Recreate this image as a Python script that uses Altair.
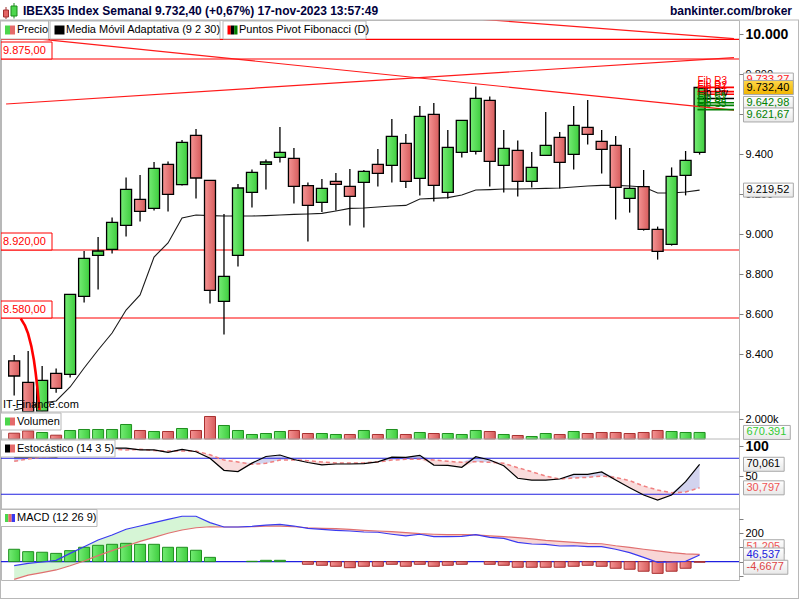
import altair as alt
import numpy as np
import pandas as pd

FONT = "Liberation Sans"

# ---------------- data: weekly candles (5-dic-2022 .. 13-nov-2023) ----------------
week = list(range(50))
open_ = [8366, 8258, 8114, 8303, 8298, 8688, 8893, 8923, 9043, 9173,
         9128, 9348, 9247, 9493, 9268, 8663, 8893, 9208, 9348, 9383,
         9378, 9242, 9158, 9263, 9238, 9258, 9348, 9343, 9453, 9278,
         9598, 9208, 9408, 9413, 9668, 9343, 9418, 9263, 9393, 9483,
         9398, 9533, 9463, 9443, 9178, 9237, 9023, 8948, 9293, 9408]
high = [8395, 8415, 8340, 8328, 8700, 8915, 8985, 9082, 9282, 9295,
        9360, 9363, 9470, 9525, 9270, 9100, 9250, 9322, 9373, 9535,
        9430, 9258, 9275, 9305, 9325, 9320, 9425, 9575, 9500, 9640,
        9655, 9520, 9570, 9737, 9687, 9520, 9468, 9410, 9610, 9510,
        9640, 9670, 9520, 9490, 9430, 9320, 9037, 9333, 9415, 9735]
low = [8192, 8112, 8112, 8206, 8282, 8657, 8722, 8903, 8987, 9062,
       9117, 9112, 9242, 9177, 8653, 8498, 8837, 9132, 9222, 9357,
       9152, 8962, 9110, 9118, 9042, 9032, 9237, 9257, 9230, 9192,
       9163, 9178, 9382, 9397, 9237, 9207, 9187, 9232, 9393, 9228,
       9322, 9447, 9302, 9072, 9107, 9017, 8872, 8942, 9193, 9397]
close = [8290, 8112, 8268, 8228, 8698, 8878, 8915, 9058, 9223, 9113,
         9328, 9198, 9458, 9280, 8718, 8788, 9230, 9308, 9360, 9408,
         9238, 9143, 9228, 9248, 9188, 9313, 9303, 9488, 9263, 9588,
         9243, 9433, 9568, 9678, 9363, 9428, 9263, 9333, 9443, 9358,
         9543, 9498, 9423, 9233, 9228, 9023, 8913, 9288, 9368, 9732.40]
ama = [8120, 8135, 8155, 8165, 8235, 8330, 8420, 8505, 8620, 8695,
       8885, 8955, 9080, 9095, 9092, 9090, 9090, 9090, 9092, 9095,
       9098, 9100, 9103, 9115, 9128, 9130, 9135, 9140, 9143, 9175,
       9178, 9182, 9195, 9220, 9222, 9225, 9225, 9226, 9228, 9230,
       9235, 9240, 9243, 9243, 9240, 9235, 9205, 9205, 9210, 9219.52]
volume_k = [595, 831, 667, 390, 872, 975, 975, 975, 1488, 872,
            770, 770, 1077, 872, 2309, 1385, 872, 462, 564, 770,
            872, 564, 564, 462, 462, 872, 462, 975, 462, 667,
            564, 564, 462, 872, 770, 462, 359, 257, 564, 462,
            770, 564, 667, 667, 564, 667, 872, 770, 667, 670.391]
vol_up = [0, 0, 1, 0, 1, 1, 1, 1, 1, 0,
          1, 0, 1, 0, 0, 1, 1, 1, 1, 1,
          0, 0, 1, 1, 0, 1, 0, 1, 0, 1,
          0, 1, 1, 1, 0, 1, 0, 1, 1, 0,
          1, 0, 0, 0, 0, 0, 0, 1, 1, 1]
stoch_k = [82, 82, 83, 82, 90, 95, 96, 97, 97, 94,
           94, 90, 95, 91, 80, 60, 58, 72, 83, 85.5,
           78, 73, 69, 70.5, 70.5, 71, 74, 82, 81.7, 85,
           68.8, 68.3, 65, 82.7, 77.2, 67.7, 46.7, 43.8, 43.8, 45.5,
           53.3, 53.3, 57.2, 43.8, 31, 18.8, 10.5, 18.8, 41, 70.061]
stoch_d = [75, 79, 82, 83, 84, 88, 93, 95, 94, 95,
           93, 92, 92, 92, 86, 77, 74, 70, 71.7, 77,
           77.5, 76, 74, 72, 72, 72.5, 74, 77, 78.3, 78.3,
           77.2, 75, 73.3, 74.4, 73.3, 71.7, 64.4, 57.7, 50.5, 45.5,
           47.2, 48.3, 50.5, 48.3, 42.7, 33.8, 27.2, 22.7, 23.8, 30.797]
macd = [-29, -12, -3, 9, 58, 105, 152, 188, 228, 251,
        275, 298, 320, 320, 275, 244, 244, 249, 258, 263,
        251, 235, 228, 221, 216, 209, 207, 193, 181, 193,
        176, 176, 178, 190, 171, 164, 136, 124, 122, 110,
        112, 105, 105, 87, 63, 30, -5, -3, 2, 46.537]
signal = [-125, -95, -78, -59, -29, 4, 42, 77, 110, 143,
          171, 200, 223, 239, 246, 244, 244, 246, 251, 251,
          246, 239, 235, 232, 228, 221, 216, 211, 204, 197,
          193, 190, 190, 188, 181, 176, 169, 160, 150, 143,
          136, 129, 126, 112, 101, 87, 75, 63, 54, 51.205]
hist = [87, 70, 66, 58, 77, 101, 115, 122, 129, 122,
        122, 101, 101, 80, 30, 0, 0, 2, 9, 9,
        0, -19, -26, -33, -43, -33, -33, -19, -33, -19,
        -33, -26, -19, 0, -19, -26, -40, -40, -40, -40,
        -33, -26, -33, -47, -54, -68, -83, -68, -47, -4.6677]

month_ticks = [4, 9, 13, 17, 21, 26, 30, 35, 39, 43, 48]
month_labels = ["2023", "feb", "mar", "abr", "may", "jun", "jul", "ago", "sep", "oct", "nov"]
price_ticks = [8400, 8600, 8800, 9000, 9200, 9400, 9600, 9800, 10000]
vol_ticks = [2000]
stoch_ticks = [100, 50]
stoch_levels = [80, 20]
macd_ticks = [300, 200, 100, 0, -100]

h_levels = [9973, 9875, 8920, 8580]
trend_id = ["a", "a", "b", "b", "c", "c"]
trend_i = [-0.58, 51.46, -0.58, 51.46, -0.58, 51.46]
trend_p = [9992, 9619, 10255, 9977, 9650, 9882]
arc_i = [0.47, 0.99, 1.41, 1.65, 1.81]
arc_p = [8578, 8503, 8370, 8237, 8120]
fib_names = ["Fib R3", "Fib R2", "Fib R1", "Fib Piv", "Fib S1", "Fib S2", "Fib S3"]
fib_levels = [9733.27, 9711.96, 9698.79, 9677.47, 9656.15, 9642.98, 9621.67]
fib_start = 48.85
last_volume = 670391

# ---------------- layout ----------------
W, H = 738, 560
OX, OY = 1, 20
X0, X1 = -0.584, 51.46
PANELS = {
    "price": ([8110, 10070], [392, 0]),
    "vol": ([0, 2769], [419, 392]),
    "sto": ([-4.5, 112.2], [489, 419]),
    "macd": ([-129.9, 371.2], [560, 489]),
}
xscale = alt.Scale(domain=[X0, X1], nice=False, zero=False)


def X(f="i", axis=None):
    return alt.X(f"{f}:Q", scale=xscale, axis=axis)


def Y(f, panel, axis=None):
    d, r = PANELS[panel]
    return alt.Y(f"{f}:Q", scale=alt.Scale(domain=d, range=r, nice=False, zero=False), axis=axis)


def cond(test, a, b):
    return {"condition": {"test": test, "value": a}, "value": b}


def hgrad(c1, c2):
    return alt.LinearGradient(gradient="linear", x1=0, x2=1, y1=0, y2=0,
                              stops=[alt.GradientStop(color=c1, offset=0), alt.GradientStop(color=c2, offset=1)])


def vgrad(c1, c2):
    return alt.LinearGradient(gradient="linear", x1=0, x2=0, y1=0, y2=1,
                              stops=[alt.GradientStop(color=c1, offset=0), alt.GradientStop(color=c2, offset=1)])


GREEN = hgrad("#74ec74", "#3fcd3f")
RED = hgrad("#f59494", "#d65c5c")

df = pd.DataFrame(dict(i=week, o=open_, h=high, l=low, c=close, ama=ama, vol=volume_k,
                       vup=vol_up, k=stoch_k, d=stoch_d, m=macd, s=signal, hist=hist))
df["up"] = df["c"] >= df["o"]
df["zero"] = 0.0
df["kmax"] = np.maximum(df["k"], df["d"])
df["kmin"] = np.minimum(df["k"], df["d"])
df["mmax"] = np.maximum(df["m"], df["s"])
df["mmin"] = np.minimum(df["m"], df["s"])

ONE = pd.DataFrame({"z": [0]})

axis_common = dict(title=None, grid=False, domain=False, tickSize=4, tickColor="#808080",
                   labelColor="black", labelFont=FONT, labelPadding=2, labelOverlap=False)
PRICE_AXIS = alt.Axis(orient="right", values=price_ticks,
                      labelFontSize=cond("datum.value == 10000", 14, 11),
                      labelFontWeight=cond("datum.value == 10000", "bold", "normal"),
                      labelExpr="replace(format(datum.value, ','), ',', '.')", **axis_common)
VOL_AXIS = alt.Axis(orient="right", values=vol_ticks, labelFontSize=11,
                    labelExpr="replace(format(datum.value, ','), ',', '.') + 'k'", **axis_common)
STO_AXIS = alt.Axis(orient="right", values=stoch_ticks,
                    labelFontSize=cond("datum.value == 100", 14, 11),
                    labelFontWeight=cond("datum.value == 100", "bold", "normal"), **axis_common)
MACD_AXIS = alt.Axis(orient="right", values=macd_ticks, labelFontSize=11,
                     labelExpr="datum.value == 200 ? '200' : ''", **axis_common)
lab_arr = "[" + ",".join(f"'{s}'" for s in month_labels) + "]"
tick_arr = "[" + ",".join(str(t) for t in month_ticks) + "]"
X_AXIS = alt.Axis(orient="bottom", values=month_ticks, title=None, grid=False, domain=False,
                  tickSize=4, tickColor="#808080", labelColor="black", labelFont=FONT,
                  labelFontSize=cond("datum.value == 4", 14, 11),
                  labelFontWeight=cond("datum.value == 4", "bold", "normal"),
                  labelPadding=1, labelOverlap=False, labelFlush=False,
                  labelExpr=f"{lab_arr}[indexof({tick_arr}, datum.value)]")

base = alt.Chart(df)
layers = []

# ---------- price panel ----------
hl = pd.DataFrame({"p": h_levels})
layers.append(alt.Chart(hl).mark_rule(color="#ff0000", strokeWidth=1.2).encode(y=Y("p", "price")))
layers.append(base.mark_line(color="#1a1a1a", strokeWidth=1.1).encode(x=X(), y=Y("ama", "price")))
layers.append(base.mark_rule(color="black", strokeWidth=1.3).encode(
    x=X(), y=Y("l", "price", axis=PRICE_AXIS), y2="h:Q"))
layers.append(base.transform_filter("datum.up").mark_bar(size=11, fill=GREEN, stroke="black", strokeWidth=1.3)
              .encode(x=X(), y=Y("o", "price"), y2="c:Q"))
layers.append(base.transform_filter("!datum.up").mark_bar(size=11, fill=RED, stroke="black", strokeWidth=1.3)
              .encode(x=X(), y=Y("o", "price"), y2="c:Q"))
tr = pd.DataFrame({"id": trend_id, "i": trend_i, "p": trend_p})
layers.append(alt.Chart(tr).mark_line(color="#ff1a1a", strokeWidth=1.2, clip=True).encode(
    x=X(), y=Y("p", "price"), detail="id:N"))
arc = pd.DataFrame({"i": arc_i, "p": arc_p})
layers.append(alt.Chart(arc).mark_line(color="#ff0000", strokeWidth=2.6, interpolate="monotone").encode(
    x=X(), y=Y("p", "price")))
fib = pd.DataFrame({"name": fib_names, "p": fib_levels})
fib["xa"] = fib_start
fib["xb"] = X1
fib["col"] = ["#ff0000" if n.endswith(("R3", "R2", "R1")) else ("#000000" if n.endswith("Piv") else "#008000")
              for n in fib_names]
layers.append(alt.Chart(fib).mark_rule(strokeWidth=1.6, clip=True).encode(
    x=X("xa"), x2="xb:Q", y=Y("p", "price"), color=alt.Color("col:N", scale=None)))
layers.append(alt.Chart(fib).mark_text(align="left", baseline="middle", dy=-6, font=FONT, fontSize=10).encode(
    x=X("xa"), y=Y("p", "price"), text="name:N", color=alt.Color("col:N", scale=None)))


def fmt_es(v, dec):
    s = f"{v:,.{dec}f}"
    return s.replace(",", "X").replace(".", ",").replace("X", ".")


def tw(s):
    return sum(6.12 if ch.isdigit() else (3.66 if ch == "-" else 3.06) for ch in s)


def box(val, label, panel, tcolor, fill, yoff=0.0, left=743.5, h=14, stroke="#a8a8a8", tleft=3):
    d = pd.DataFrame({"v": [val]})
    w = tw(label) + 7 if left > 700 else 51
    r = h / w
    path = f"M-1,{-r:.4f}L1,{-r:.4f}L1,{r:.4f}L-1,{r:.4f}Z"
    b = alt.Chart(d).mark_point(shape=path, size=w * w, filled=True, fill=fill, stroke=stroke,
                                strokeWidth=1, opacity=1, fillOpacity=1, yOffset=yoff).encode(
        x=alt.value(left + w / 2 - OX), y=Y("v", panel))
    t = alt.Chart(d).mark_text(text=label, align="left", baseline="middle", dy=yoff, color=tcolor,
                               font=FONT, fontSize=11).encode(x=alt.value(left + tleft - OX), y=Y("v", panel))
    return [b, t]


# left labels of horizontal levels (first one hidden under the legend row)
for lv in h_levels[1:]:
    layers += box(lv, fmt_es(lv, 2), "price", "#ff0000", "white", yoff=-8.5, left=1, h=17,
                  stroke="#ff0000", tleft=2)

# ---------- volume ----------
layers.append(base.transform_filter("datum.vup == 1").mark_bar(size=11, fill=GREEN, stroke="#1f8f1f", strokeWidth=1)
              .encode(x=X(), y=Y("vol", "vol", axis=VOL_AXIS), y2="zero:Q"))
layers.append(base.transform_filter("datum.vup == 0").mark_bar(size=11, fill=RED, stroke="#a83030", strokeWidth=1)
              .encode(x=X(), y=Y("vol", "vol"), y2="zero:Q"))

# ---------- stochastic ----------
layers.append(base.mark_area(color="#d2d3ee", opacity=1).encode(x=X(), y=Y("kmax", "sto"), y2="d:Q"))
layers.append(base.mark_area(color="#f9dcdc", opacity=1).encode(x=X(), y=Y("kmin", "sto"), y2="d:Q"))
layers.append(alt.Chart(pd.DataFrame({"v": stoch_levels})).mark_rule(color="#2020e0", strokeWidth=1.1)
              .encode(y=Y("v", "sto")))
layers.append(base.mark_line(color="#f08080", strokeWidth=1.5, strokeDash=[4, 3]).encode(x=X(), y=Y("d", "sto")))
layers.append(base.mark_line(color="black", strokeWidth=1.2).encode(x=X(), y=Y("k", "sto", axis=STO_AXIS)))

# ---------- MACD ----------
layers.append(base.mark_area(color="#d6f5d6", opacity=1).encode(x=X(), y=Y("mmax", "macd"), y2="s:Q"))
layers.append(base.mark_area(color="#f8d6d6", opacity=1).encode(x=X(), y=Y("mmin", "macd"), y2="s:Q"))
layers.append(alt.Chart(pd.DataFrame({"v": [0]})).mark_rule(color="#2020e0", strokeWidth=1.1)
              .encode(y=Y("v", "macd")))
layers.append(base.transform_filter("datum.hist > 0").mark_bar(size=11, fill=GREEN, stroke="#1f8f1f", strokeWidth=1)
              .encode(x=X(), y=Y("hist", "macd"), y2="zero:Q"))
layers.append(base.transform_filter("datum.hist < 0").mark_bar(size=11, fill=RED, stroke="#a83030", strokeWidth=1)
              .encode(x=X(), y=Y("hist", "macd"), y2="zero:Q"))
layers.append(base.mark_line(color="#e07070", strokeWidth=1.2).encode(x=X(), y=Y("s", "macd")))
layers.append(base.mark_line(color="#3a3af0", strokeWidth=1.2).encode(x=X(axis=X_AXIS), y=Y("m", "macd", axis=MACD_AXIS)))


# ---------- decorations ----------
def rule_abs(x1, x2, y1, y2, color="#b8b8b8", width=1):
    return alt.Chart(ONE).mark_rule(color=color, strokeWidth=width).encode(
        x=alt.value(x1 - OX), x2=alt.value(x2 - OX), y=alt.value(y1 - OY), y2=alt.value(y2 - OY))


def rect_abs(x1, x2, y1, y2, fill, stroke=None, width=1):
    kw = dict(fill=fill)
    if stroke:
        kw.update(stroke=stroke, strokeWidth=width)
    return alt.Chart(ONE).mark_rect(**kw).encode(
        x=alt.value(x1 - OX), x2=alt.value(x2 - OX), y=alt.value(y1 - OY), y2=alt.value(y2 - OY))


def text_abs(x, y, s, size=11, weight="normal", color="black", align="left"):
    return alt.Chart(ONE).mark_text(text=s, font=FONT, fontSize=size, fontWeight=weight, color=color,
                                    align=align, baseline="middle").encode(x=alt.value(x - OX), y=alt.value(y - OY))


layers.append(text_abs(3, 405, "IT-Finance.com"))

GRAY = "#b8b8b8"
for yy in (412, 439, 509):
    layers.append(rule_abs(1, 739, yy, yy, GRAY))
layers.append(rule_abs(0, 799, 20, 20, GRAY))
layers.append(rule_abs(798.5, 798.5, 20, 598, GRAY))
layers.append(rule_abs(0, 799, 598.5, 598.5, GRAY))
layers.append(rule_abs(0.5, 0.5, 20, 598, GRAY))


def legend(x1, x2, y1, y2, label, icons, tx):
    out = [rect_abs(x1, x2, y1, y2, "white", GRAY)]
    n = len(icons)
    iw = 10 / n
    for k, c in enumerate(icons):
        out.append(rect_abs(5 + x1 - 0.5 + k * iw, 5 + x1 - 0.5 + (k + 1) * iw, y1 + 4.5, y2 - 4.5, c))
    out.append(text_abs(tx, (y1 + y2) / 2, label))
    return out


layers += legend(0.5, 48.5, 21, 39, "Precio", ["#4cd64c", "#e46a6a"], 17)
layers += legend(50, 220, 21, 39, "Media Móvil Adaptativa (9 2 30)", ["#000000"], 66)
layers += legend(223, 366, 21, 39, "Puntos Pivot Fibonacci (D)", ["#ff0000", "#000000", "#008000"], 239)
layers += legend(0.5, 61, 413, 430, "Volumen", ["#4cd64c", "#e46a6a"], 17)
layers += legend(0.5, 115, 440, 457, "Estocástico (14 3 5)", ["#000000", "#e46a6a"], 17)
layers += legend(0.5, 97, 509.5, 526.5, "MACD (12 26 9)", ["#4cd64c", "#e46a6a", "#3a3af0"], 17)

# header
layers.append(rule_abs(6, 6, 7, 19, "#a03030", 1))
layers.append(rect_abs(3.5, 8.5, 10, 17, "#e46464", "#a03030"))
layers.append(rule_abs(14, 14, 3, 18.5, "#1a8a1a", 1))
layers.append(rect_abs(11, 17, 6, 16, "#4cd64c", "#1a8a1a"))
layers.append(text_abs(23, 10.5, "IBEX35 Index Semanal 9.732,40 (+0,67%) 17-nov-2023 13:57:49",
                       size=12, weight="bold", color="#00003c"))
layers.append(text_abs(792, 10.5, "bankinter.com/broker", size=12, weight="bold", color="#00003c", align="right"))

# right value boxes
WHITEBOX = vgrad("#ffffff", "#e8e8e8")
layers += box(fib_levels[0], fmt_es(fib_levels[0], 2), "price", "#ff2020", WHITEBOX, yoff=-7.3)
layers += box(close[-1], fmt_es(close[-1], 2), "price", "black", vgrad("#ffd84a", "#f0b400"), yoff=0)
layers += box(fib_levels[5], fmt_es(fib_levels[5], 2), "price", "#008000", WHITEBOX, yoff=-2)
layers += box(fib_levels[6], fmt_es(fib_levels[6], 2), "price", "#008000", WHITEBOX, yoff=5.3)
layers += box(ama[-1], fmt_es(ama[-1], 2), "price", "black", WHITEBOX)
layers += box(last_volume / 1000, fmt_es(last_volume, 0), "vol", "#33cc33", WHITEBOX)
layers += box(stoch_k[-1], fmt_es(stoch_k[-1], 3), "sto", "black", WHITEBOX)
layers += box(stoch_d[-1], fmt_es(stoch_d[-1], 3), "sto", "#ee5555", WHITEBOX)
layers += box(signal[-1], fmt_es(signal[-1], 3), "macd", "#ee5555", WHITEBOX, yoff=-7.6)
layers += box(macd[-1], fmt_es(macd[-1], 3), "macd", "#2020dd", WHITEBOX)
layers += box(hist[-1], fmt_es(hist[-1], 4), "macd", "#dd4444", WHITEBOX, yoff=5)

chart = (
    alt.layer(*layers)
    .resolve_scale(y="independent")
    .properties(width=W, height=H, padding={"left": OX, "top": OY, "right": 800 - W - OX, "bottom": 600 - H - OY},
                autosize=alt.AutoSizeParams(type="none"), background="white")
    .configure_view(stroke=GRAY, strokeWidth=1)
)

chart.save("out.html", embed_options={"renderer": "svg", "actions": False})
